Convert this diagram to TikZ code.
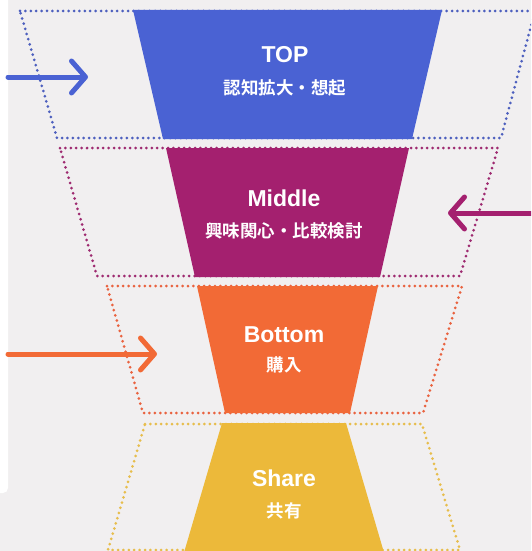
\documentclass[tikz,border=0pt]{standalone}
\usepackage{fontspec}
\usetikzlibrary{arrows.meta}
\newfontfamily\jpfont{Noto Sans CJK JP}[BoldFont={Noto Sans CJK JP Bold}]
\newfontfamily\latfont{Liberation Sans}
\definecolor{bgc}{HTML}{F1EFF0}
\definecolor{cblue}{HTML}{4A62D3}
\definecolor{cpurple}{HTML}{A4206F}
\definecolor{corange}{HTML}{F26A36}
\definecolor{cyellow}{HTML}{ECB93A}
\definecolor{dblue}{HTML}{4D5FBE}
\definecolor{dpurple}{HTML}{9E2A70}
\definecolor{dorange}{HTML}{E9623F}
\definecolor{dyellow}{HTML}{E7BD4C}
\tikzset{
  dotline/.style={line width=3pt, line cap=round, dash pattern=on 0pt off 5.4pt, line join=round},
  title/.style={text=white, font=\latfont\bfseries\fontsize{23}{26}\selectfont, anchor=base, inner sep=0pt},
  sub/.style={text=white, font=\jpfont\bfseries\fontsize{17.5}{20}\selectfont, anchor=center, inner sep=0pt},
  flow/.style={line width=5pt, line cap=round, -{Straight Barb[length=14pt, width=32pt, round]}},
}
\begin{document}
\begin{tikzpicture}[x=1pt,y=-1pt]
\useasboundingbox (0,0) rectangle (531,551);
\clip (0,0) rectangle (531,551);
\fill[bgc] (0,0) rectangle (531,551);
\fill[white, rounded corners=5pt] (-10,-10) rectangle (8,493);

% dotted outlines
\draw[dotline, dblue] (20,11) -- (535,11) -- (501,138) -- (57,138) -- cycle;
\draw[dotline, dpurple] (60,148) -- (498,148) -- (460,276) -- (97,276) -- cycle;
\draw[dotline, dorange] (107,286) -- (462,286) -- (423,413) -- (143,413) -- cycle;
\draw[dotline, dyellow] (145,424) -- (422,424) -- (460,550) -- (108,550) -- cycle;

% funnel sections
\fill[cblue] (133,10) -- (442,10) -- (412,139) -- (163,139) -- cycle;
\fill[cpurple] (166,148) -- (409,148) -- (380,277) -- (195,277) -- cycle;
\fill[corange] (197,286) -- (378,286) -- (350,413) -- (225,413) -- cycle;
\fill[cyellow] (222,423) -- (346,423) -- (385,556) -- (183,556) -- cycle;

% texts
\node[title] (top) at (285,63) {TOP};
\node[sub] (topjp) at (285,88) {認知拡大・想起};
\node[title] (mid) at (284,206) {Middle};
\node[sub] (midjp) at (284,231) {興味関心・比較検討};
\node[title] (bot) at (284,342) {Bottom};
\node[sub] (botjp) at (284,365) {購入};
\node[title] (sha) at (284,486) {Share};
\node[sub] (shajp) at (284,511) {共有};

% arrows
\coordinate (a1s) at (8,77);
\coordinate (a1e) at (88,77);
\coordinate (a2s) at (536,213);
\coordinate (a2e) at (448,213);
\coordinate (a3s) at (8,354);
\coordinate (a3e) at (157,354);
\draw[flow, cblue] (a1s) -- (a1e);
\draw[flow, cpurple] (a2s) -- (a2e);
\draw[flow, corange] (a3s) -- (a3e);
\end{tikzpicture}
\end{document}
